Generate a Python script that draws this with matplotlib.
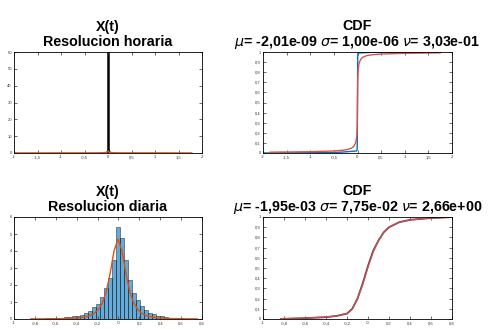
import numpy as np
import matplotlib
matplotlib.use("Agg")
import matplotlib.pyplot as plt
from matplotlib.ticker import FuncFormatter

# --- datos ---
# resolucion horaria: histograma (clase central recortada) y ajuste
hor_centros = [-0.096, -0.084, -0.072, -0.06, -0.048, -0.036, -0.024, -0.012, 0.0,
               0.012, 0.024, 0.036, 0.048, 0.06, 0.072, 0.084, 0.096]
hor_alturas = [0.2, 0.3, 0.4, 0.6, 0.8, 1.1, 1.5, 2.2, 75.0,
               2.1, 1.5, 1.1, 0.8, 0.6, 0.4, 0.3, 0.2]
hor_ajuste_x = [-1.97, -1.0, -0.5, -0.2, -0.1, -0.03, -0.006, 0.006, 0.03, 0.1, 0.2, 0.5, 1.0, 1.78]
hor_ajuste_y = [0.05, 0.07, 0.09, 0.12, 0.18, 0.35, 1.2, 1.2, 0.35, 0.18, 0.12, 0.09, 0.07, 0.05]

# CDF horaria
hor_cdf_x = [-1.85, -1.5, -1.0, -0.5, -0.3, -0.2, -0.12, -0.08, -0.05, -0.03, -0.015,
             -0.005, 0.0, 0.005, 0.015, 0.03, 0.05, 0.08, 0.12, 0.2, 0.3, 0.5, 1.0, 1.5, 1.75]
hor_cdf_ajuste = [0.008, 0.010, 0.013, 0.02, 0.028, 0.036, 0.05, 0.065, 0.09, 0.12, 0.17,
                  0.28, 0.5, 0.72, 0.83, 0.88, 0.91, 0.935, 0.95, 0.965, 0.972, 0.98, 0.987, 0.99, 0.992]
hor_emp_x = [-1.97, -0.5, -0.3, -0.02, -0.008, -0.004, 0.004, 0.008, 0.02, 0.3, 1.78]
hor_emp_y = [0.0, 0.004, 0.01, 0.02, 0.03, 0.1, 0.95, 0.985, 0.99, 0.997, 1.0]

# resolucion diaria: histograma y ajuste
dia_centros = [-0.84 + 0.038 * k for k in range(43)]
dia_alturas = [0.01, 0.01, 0.02, 0.02, 0.03, 0.04, 0.05, 0.06, 0.08, 0.10, 0.12,
               0.15, 0.20, 0.26, 0.36, 0.50, 0.68, 0.90, 1.30, 1.80, 2.40, 3.45,
               5.40, 4.75, 3.50, 2.30, 1.55, 1.10, 0.75, 0.55, 0.38, 0.28, 0.20,
               0.17, 0.10, 0.08, 0.06, 0.04, 0.03, 0.02, 0.02, 0.01, 0.01]
dia_ajuste_y = [0.004, 0.005, 0.006, 0.007, 0.009, 0.011, 0.014, 0.018, 0.022, 0.029, 0.037,
                0.050, 0.069, 0.097, 0.141, 0.213, 0.333, 0.54, 0.92, 1.58, 2.67, 4.01,
                4.70, 4.01, 2.67, 1.58, 0.92, 0.54, 0.333, 0.213, 0.141, 0.097, 0.069,
                0.050, 0.037, 0.029, 0.022, 0.018, 0.014, 0.011, 0.009, 0.007, 0.006]

# CDF diaria
dia_cdf_x = [-0.83, -0.6, -0.4, -0.3, -0.2, -0.15, -0.1, -0.05, 0.0, 0.05, 0.1, 0.15, 0.2, 0.3, 0.4, 0.6, 0.8]
dia_cdf_emp = [0.0, 0.008, 0.018, 0.03, 0.053, 0.1, 0.2, 0.35, 0.52, 0.67, 0.77, 0.85, 0.9, 0.95, 0.972, 0.99, 1.0]
dia_cdf_ajuste = [0.004, 0.01, 0.02, 0.03, 0.055, 0.1, 0.2, 0.34, 0.51, 0.66, 0.77, 0.85, 0.9, 0.95, 0.972, 0.99, 0.996]

titulos_izq = ["X(t)\nResolucion horaria", "X(t)\nResolucion diaria"]
titulos_der = ["CDF\n$\\mu$= -2,01e-09 $\\sigma$= 1,00e-06 $\\nu$= 3,03e-01",
               "CDF\n$\\mu$= -1,95e-03 $\\sigma$= 7,75e-02 $\\nu$= 2,66e+00"]

AZUL = "#0072BD"
NARANJA = "#D95319"
ROJO = "#D9534F"

plt.rcParams['font.family'] = ['Liberation Sans', 'DejaVu Sans']
plt.rcParams['mathtext.fontset'] = 'dejavusans'

fig = plt.figure(figsize=(4.92, 3.32), dpi=100)
W, H = 492, 332

def caja(l, t, r, b):
    return fig.add_axes([l / W, 1 - b / H, (r - l) / W, (b - t) / H])

ax1 = caja(14, 52, 202, 153)
ax2 = caja(263, 52, 452, 153)
ax3 = caja(14, 217, 202, 319)
ax4 = caja(263, 217, 452, 319)

coma = FuncFormatter(lambda v, p: ("%g" % v).replace(".", ","))

def estilo(ax, xlim, xt, ylim, yt):
    ax.set_xlim(*xlim)
    ax.set_ylim(*ylim)
    ax.set_xticks(xt)
    ax.set_yticks(yt)
    ax.xaxis.set_major_formatter(coma)
    ax.yaxis.set_major_formatter(coma)
    ax.tick_params(direction='in', length=2, width=0.5, labelsize=3,
                   top=True, right=True, pad=1.5, colors='#333333')
    for s in ax.spines.values():
        s.set_linewidth(0.6)

# horaria
ax1.bar(hor_centros, hor_alturas, width=0.012, color=AZUL, alpha=0.6,
        edgecolor='black', linewidth=0.5)
ax1.bar([0.0], [75.0], width=0.012, color='black', edgecolor='black', linewidth=1.8)
ax1.plot(hor_ajuste_x, hor_ajuste_y, color=NARANJA, lw=1.0)
estilo(ax1, (-2, 2), np.arange(-2, 2.01, 0.5), (0, 60), np.arange(0, 61, 10))

ax2.plot(hor_emp_x, hor_emp_y, color=AZUL, lw=1.0)
ax2.plot(hor_cdf_x, hor_cdf_ajuste, color=ROJO, lw=1.0)
estilo(ax2, (-2, 2), np.arange(-2, 2.01, 0.5), (0, 1), np.round(np.arange(0, 1.01, 0.1), 1))

# diaria
ax3.bar(dia_centros, dia_alturas, width=0.038, color=AZUL, alpha=0.6,
        edgecolor='black', linewidth=0.5)
ax3.plot(dia_centros, dia_ajuste_y, color=NARANJA, lw=1.0)
estilo(ax3, (-1, 0.8), np.round(np.arange(-1, 0.81, 0.2), 1), (0, 6), np.arange(0, 7, 1))

ax4.plot(dia_cdf_x, dia_cdf_emp, color='#5a3a50', lw=1.3)
ax4.plot(dia_cdf_x, dia_cdf_ajuste, color=ROJO, lw=0.9, alpha=0.9)
estilo(ax4, (-1, 0.8), np.round(np.arange(-1, 0.81, 0.2), 1), (0, 1), np.round(np.arange(0, 1.01, 0.1), 1))

for ax, t in zip([ax1, ax3, ax2, ax4], titulos_izq + titulos_der):
    ax.set_title(t, fontsize=10.3, fontweight='bold', pad=4.5, linespacing=1.05)

fig.savefig("out.png", dpi=100)
